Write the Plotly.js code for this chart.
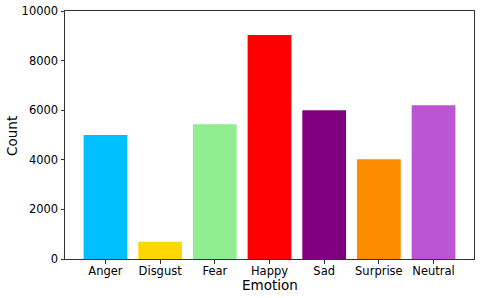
<!DOCTYPE html>
<html><head><meta charset="utf-8">
<script src="https://cdn.plot.ly/plotly-3.0.1.min.js"></script>
<style>html,body{margin:0;padding:0;background:#fff}#c{width:480px;height:298px}</style>
</head><body><div id="c"></div>
<script>
const emotions = ["Anger","Disgust","Fear","Happy","Sad","Surprise","Neutral"];
const counts = [5000, 700, 5430, 9030, 6000, 4020, 6200];
const barColors = ["#00BFFF","#FFD700","#90EE90","#FF0000","#800080","#FF8C00","#BA55D3"];
const yTicks = [0,2000,4000,6000,8000,10000];

const font = {family:"DejaVu Sans", size:11.5, color:"#000"};
const titleFont = {family:"DejaVu Sans", size:13.5, color:"#000"};
Plotly.newPlot("c", [{
  type:"bar", x:emotions, y:counts, width:0.8,
  marker:{color:barColors, line:{width:0}}, hoverinfo:"none"
}], {
  width:480, height:298,
  margin:{l:65, r:6, t:11, b:39},
  paper_bgcolor:"#fff", plot_bgcolor:"#fff",
  font:font,
  showlegend:false,
  xaxis:{
    type:"category", range:[-0.74, 6.74],
    showline:true, mirror:true, linecolor:"#333", linewidth:1,
    ticks:"outside", ticklen:3.5, tickcolor:"#333", showgrid:false,
    tickfont:font, zeroline:false, ticklabelstandoff:-2
  },
  yaxis:{
    range:[0,10000], tickvals:yTicks, ticktext:yTicks.map(String),
    showline:true, mirror:true, linecolor:"#333", linewidth:1,
    ticks:"outside", ticklen:3.5, tickcolor:"#333", showgrid:false,
    tickfont:font, zeroline:false
  },
  annotations:[
    {text:"Emotion", xref:"paper", yref:"paper", x:0.5, y:-0.104, xanchor:"center", yanchor:"middle", showarrow:false, font:titleFont},
    {text:"Count", xref:"paper", yref:"paper", x:-0.128, y:0.495, xanchor:"center", yanchor:"middle", textangle:-90, showarrow:false, font:titleFont}
  ]
}, {staticPlot:true, displayModeBar:false});
</script></body></html>
